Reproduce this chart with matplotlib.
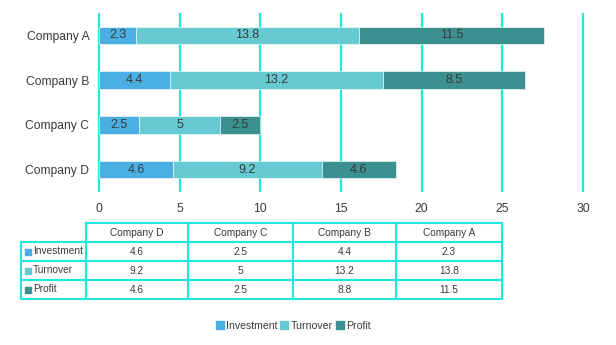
import matplotlib.pyplot as plt
from matplotlib.patches import Patch, Rectangle

plt.rcParams['font.family'] = ['Liberation Sans', 'DejaVu Sans']

companies = ['Company A', 'Company B', 'Company C', 'Company D']
investment = [2.3, 4.4, 2.5, 4.6]
turnover = [13.8, 13.2, 5, 9.2]
profit = [11.5, 8.8, 2.5, 4.6]
# label text printed on the profit segments (B reads 8.5 in the original)
profit_text = ['11.5', '8.5', '2.5', '4.6']
series_names = ['Investment', 'Turnover', 'Profit']
colors = ['#4aafe3', '#67c9d1', '#3b9190']
grid_c = '#1ee8e0'
txt_c = '#3a3a3a'

fig = plt.figure(figsize=(6.16, 3.45), dpi=100)
ax = fig.add_axes([99/616, 153/345, 484/616, 179/345])

ypos = [3, 2, 1, 0]
left = [0, 0, 0, 0]
series = [investment, turnover, profit]
for k, vals in enumerate(series):
    ax.barh(ypos, vals, left=left, height=0.39, color=colors[k],
            edgecolor='white', linewidth=0.4, zorder=3)
    for i, v in enumerate(vals):
        lab = profit_text[i] if k == 2 else f'{v:g}'
        ax.text(left[i] + v / 2, ypos[i], lab, ha='center', va='center',
                fontsize=9, color=txt_c, zorder=4)
    left = [l + v for l, v in zip(left, vals)]

ax.set_xlim(0, 30)
ax.set_ylim(-0.5, 3.5)
ticks = [0, 5, 10, 15, 20, 25, 30]
ax.vlines(ticks, -0.5, 3.5, color=grid_c, linewidth=1.6, clip_on=False, zorder=1)
ax.set_xticks(ticks)
ax.set_yticks(ypos)
ax.set_yticklabels(companies)
ax.tick_params(length=0, labelsize=8.7, colors=txt_c, pad=8)
ax.tick_params(axis='y', pad=7)
for s in ax.spines.values():
    s.set_visible(False)

# table drawn in pixel coordinates
ov = fig.add_axes([0, 0, 1, 1], zorder=-1)
ov.set_xlim(0, 616)
ov.set_ylim(345, 0)
ov.axis('off')
col_edges = [86, 188, 293, 396, 502]
row_edges = [223, 242, 261, 280, 299]
lab_x0 = 21
tab_cols = ['Company D', 'Company C', 'Company B', 'Company A']
order = [3, 2, 1, 0]
fs = 7.3
for j in range(4):
    x0, x1 = col_edges[j], col_edges[j + 1]
    ov.add_patch(Rectangle((x0, row_edges[0]), x1 - x0, row_edges[1] - row_edges[0],
                           fill=False, edgecolor=grid_c, linewidth=1.5))
    ov.text((x0 + x1) / 2, (row_edges[0] + row_edges[1]) / 2 + 0.5, tab_cols[j],
            ha='center', va='center', fontsize=fs, color=txt_c)
for r, vals in enumerate(series):
    y0, y1 = row_edges[r + 1], row_edges[r + 2]
    ym = (y0 + y1) / 2 + 0.5
    ov.add_patch(Rectangle((lab_x0, y0), col_edges[0] - lab_x0, y1 - y0,
                           fill=False, edgecolor=grid_c, linewidth=1.5))
    ov.add_patch(Rectangle((25, ym - 3), 6, 6, color=colors[r]))
    ov.text(33, ym - 1, series_names[r], ha='left', va='center',
            fontsize=fs, color=txt_c)
    for j in range(4):
        x0, x1 = col_edges[j], col_edges[j + 1]
        ov.add_patch(Rectangle((x0, y0), x1 - x0, y1 - y0,
                               fill=False, edgecolor=grid_c, linewidth=1.5))
        ov.text((x0 + x1) / 2, ym, f'{vals[order[j]]:g}',
                ha='center', va='center', fontsize=fs, color=txt_c)

handles = [Patch(color=c, label=n) for c, n in zip(colors, series_names)]
fig.legend(handles=handles, loc='center', bbox_to_anchor=(293/616, 1 - 326/345),
           ncol=3, frameon=False, fontsize=7.6, handlelength=0.75, handleheight=0.75,
           handletextpad=0.2, columnspacing=0.3, labelcolor=txt_c)

fig.savefig('out.png', dpi=100)
